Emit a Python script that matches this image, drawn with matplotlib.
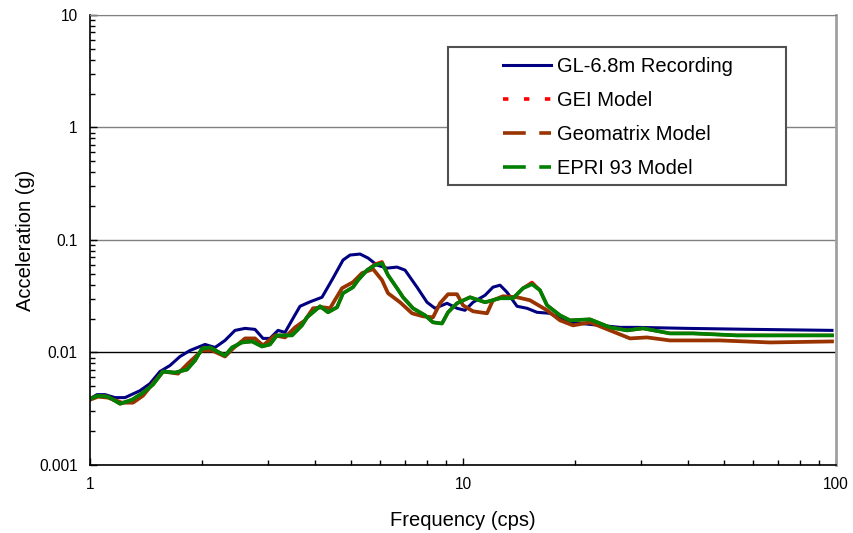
import matplotlib
matplotlib.use("Agg")
import matplotlib.pyplot as plt
from matplotlib.lines import Line2D
from matplotlib.patches import Rectangle
from matplotlib.ticker import FuncFormatter, LogLocator

plt.rcParams['font.family'] = ['Liberation Sans', 'DejaVu Sans']

# GL-6.8m recording
f_rec = [1.00, 1.044, 1.097, 1.167, 1.241, 1.362, 1.448, 1.540, 1.638, 1.743, 1.854,
         2.034, 2.164, 2.301, 2.448, 2.604, 2.769, 2.909, 3.038, 3.192, 3.333, 3.502,
         3.656, 3.889, 4.188, 4.482, 4.768, 4.978, 5.297, 5.565, 5.881, 6.256, 6.655,
         6.992, 7.529, 8.008, 8.413, 9.061, 9.637, 10.12, 10.64, 11.46, 12.03, 12.57,
         13.12, 13.96, 14.85, 15.79, 17.11, 18.20, 19.36, 26.36, 29.28, 39.86, 59.92, 97.57]
a_rec = [0.00388, 0.00422, 0.00422, 0.00397, 0.00397, 0.00458, 0.00529, 0.00677, 0.00766,
         0.00921, 0.01042, 0.01179, 0.01108, 0.0128, 0.01572, 0.01638, 0.01605, 0.01334,
         0.01334, 0.01572, 0.01509, 0.02012, 0.02575, 0.0282, 0.03097, 0.04579, 0.06629,
         0.07346, 0.07499, 0.06908, 0.05982, 0.05623, 0.05741, 0.05397, 0.03805, 0.02795,
         0.02471, 0.02738, 0.02471, 0.02371, 0.02795, 0.03227, 0.03805, 0.03965, 0.03433,
         0.02575, 0.02471, 0.02276, 0.0223, 0.02012, 0.01853, 0.01672, 0.01672, 0.01638,
         0.01605, 0.01572]

# EPRI 93 model
f_epri = [1.00, 1.051, 1.117, 1.204, 1.296, 1.387, 1.475, 1.569, 1.690, 1.820, 1.912,
          1.997, 2.098, 2.301, 2.403, 2.556, 2.719, 2.891, 3.038, 3.172, 3.480, 3.701,
          3.818, 4.138, 4.346, 4.595, 4.768, 5.071, 5.231, 5.531, 5.811, 6.066, 6.295,
          6.655, 6.906, 7.345, 7.910, 8.310, 8.784, 9.117, 9.637, 10.44, 11.46, 12.57,
          13.62, 14.49, 15.31, 16.08, 16.80, 18.20, 19.36, 21.90, 24.78, 27.53, 30.38,
          35.89, 41.37, 54.27, 97.57]
a_epri = [0.00388, 0.00413, 0.00405, 0.0035, 0.0038, 0.00439, 0.00518, 0.00677, 0.00663,
          0.00705, 0.00848, 0.01086, 0.01108, 0.0094, 0.01108, 0.01228, 0.01254, 0.01131,
          0.01179, 0.01419, 0.01419, 0.01742, 0.02054, 0.02575, 0.02276, 0.02522, 0.03363,
          0.03805, 0.04394, 0.05397, 0.05982, 0.06234, 0.0487, 0.03728, 0.03097, 0.02471,
          0.0214, 0.01853, 0.0181, 0.02276, 0.02738, 0.03097, 0.02795, 0.03035, 0.03035,
          0.03728, 0.04048, 0.03577, 0.02628, 0.0214, 0.01931, 0.01971, 0.01672, 0.01572,
          0.01638, 0.01478, 0.01478, 0.01419, 0.01419]

# GEI model (almost hidden under EPRI 93)
a_gei = [0.00388, 0.00413, 0.00405, 0.0035, 0.0038, 0.00439, 0.00518, 0.00677, 0.00663,
         0.00705, 0.00848, 0.01086, 0.01108, 0.0094, 0.01108, 0.01228, 0.01254, 0.01131,
         0.01179, 0.01419, 0.01419, 0.01742, 0.02054, 0.02575, 0.02276, 0.02522, 0.03363,
         0.03805, 0.04394, 0.05397, 0.06100, 0.06400, 0.0487, 0.03728, 0.03097, 0.02471,
         0.0214, 0.01853, 0.0181, 0.02276, 0.02738, 0.03097, 0.02795, 0.03035, 0.03035,
         0.03728, 0.04200, 0.03577, 0.02628, 0.0214, 0.01931, 0.01971, 0.01672, 0.01572,
         0.01638, 0.01478, 0.01478, 0.01419, 0.01419]

# Geomatrix model
f_geo = [1.00, 1.051, 1.117, 1.218, 1.304, 1.387, 1.466, 1.569, 1.722, 1.831, 1.997,
         2.124, 2.301, 2.418, 2.604, 2.769, 2.909, 3.133, 3.333, 3.546, 3.771, 3.962,
         4.214, 4.400, 4.739, 5.071, 5.361, 5.739, 6.066, 6.295, 6.780, 7.300, 7.813,
         8.310, 8.677, 9.117, 9.637, 10.0, 10.64, 11.60, 12.03, 12.80, 13.96, 15.12,
         16.80, 18.20, 19.72, 21.90, 24.78, 28.04, 31.14, 35.89, 48.87, 66.56, 97.57]
a_geo = [0.0038, 0.00405, 0.00397, 0.00358, 0.00358, 0.00413, 0.00518, 0.00677, 0.00649,
         0.00798, 0.01042, 0.01042, 0.00921, 0.01086, 0.01334, 0.01334, 0.01155, 0.01419,
         0.01361, 0.01672, 0.01931, 0.02471, 0.02522, 0.02471, 0.03728, 0.04217, 0.05075,
         0.0551, 0.04394, 0.03363, 0.02795, 0.0223, 0.02096, 0.02054, 0.02738, 0.03295,
         0.03295, 0.02628, 0.02323, 0.0223, 0.02912, 0.03162, 0.03097, 0.02912, 0.02371,
         0.01931, 0.01742, 0.01853, 0.01572, 0.01334, 0.01361, 0.0128, 0.0128, 0.01228,
         0.01254]

labels = ["GL-6.8m Recording", "GEI Model", "Geomatrix Model", "EPRI 93 Model"]
colors = ["#000080", "#FF0000", "#993300", "#008000"]

fig = plt.figure(figsize=(8.54, 5.33), dpi=100)
ax = fig.add_axes([0.1054, 0.1276, 0.8735, 0.8443])

ax.plot(f_rec, a_rec, color=colors[0], lw=2.2)
ax.plot(f_epri, a_gei, color=colors[1], lw=2.4)
ax.plot(f_geo, a_geo, color=colors[2], lw=2.7)
ax.plot(f_epri, a_epri, color=colors[3], lw=2.7)

ax.set_xscale("log")
ax.set_yscale("log")
ax.set_xlim(1, 100)
ax.set_ylim(0.001, 10)

fmt = FuncFormatter(lambda v, p: f"{v:g}")
ax.xaxis.set_major_formatter(fmt)
ax.yaxis.set_major_formatter(fmt)
ax.xaxis.set_minor_locator(LogLocator(base=10, subs=range(2, 10)))
ax.yaxis.set_minor_locator(LogLocator(base=10, subs=range(2, 10)))
ax.xaxis.set_minor_formatter(plt.NullFormatter())
ax.yaxis.set_minor_formatter(plt.NullFormatter())

ax.tick_params(which="both", direction="in", labelsize=11.2, colors="black", width=1)
ax.tick_params(which="major", length=5, pad=9)
ax.tick_params(which="minor", length=3.5)

ax.grid(axis="y", which="major", color="#808080", lw=1)
for v, gl in zip(ax.get_yticks(), ax.get_ygridlines()):
    if abs(v - 0.01) < 1e-9:
        gl.set_color("black")

ax.spines["top"].set_color("#808080")
ax.spines["right"].set_color("#a0a0a0")
ax.spines["right"].set_linewidth(2)
ax.spines["left"].set_linewidth(1.2)
ax.spines["bottom"].set_linewidth(1.2)

ax.set_xlabel("Frequency (cps)", fontsize=14.5, labelpad=13)
ax.set_ylabel("Acceleration (g)", fontsize=14.5, labelpad=3)

# legend frame box
ax.add_patch(Rectangle((0.48, 0.622), 0.453, 0.307, transform=ax.transAxes,
                       facecolor="white", edgecolor="#505050", lw=1.5, zorder=4))

handles = [
    Line2D([], [], color=colors[0], lw=2.2),
    Line2D([], [], color=colors[1], lw=2.6, dashes=(1.5, 4.3)),
    Line2D([], [], color=colors[2], lw=2.6, dashes=(6.3, 3.75)),
    Line2D([], [], color=colors[3], lw=2.6, dashes=(6.3, 3.75)),
]
leg = ax.legend(handles, labels, loc="upper left", bbox_to_anchor=(0.5536, 0.906),
                fontsize=14.5, handlelength=2.4, handletextpad=0.3,
                labelspacing=0.74, borderpad=0, borderaxespad=0, frameon=False)
leg.set_zorder(5)

fig.savefig("out.png", dpi=100)
